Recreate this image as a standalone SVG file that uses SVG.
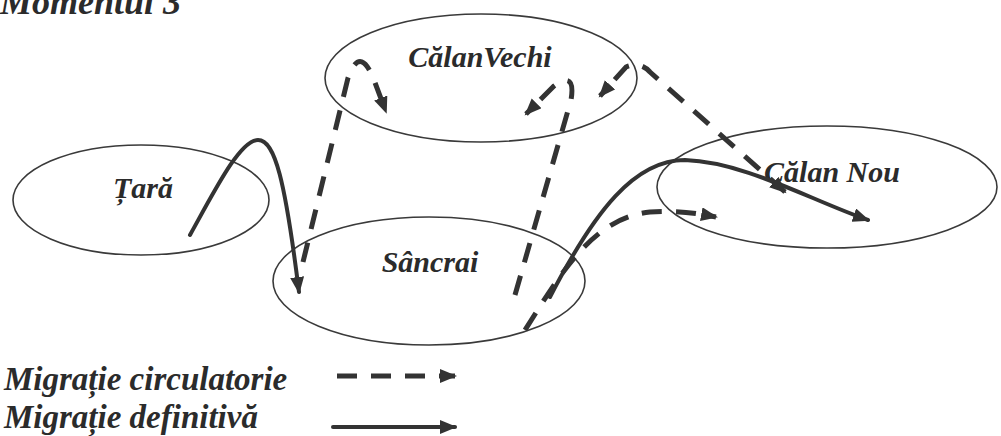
<svg xmlns="http://www.w3.org/2000/svg" width="1001" height="436" viewBox="0 0 1001 436">
<style>
.t{font-family:"Liberation Serif","Times New Roman",serif;font-weight:bold;font-style:italic;fill:#2b2b2b}
.n{font-size:30px;text-anchor:middle}
.lg{font-size:33px}
.e{fill:none;stroke:#3a3a3a;stroke-width:1.6}
.s{fill:none;stroke:#333;stroke-width:4;stroke-linecap:round}
.d{fill:none;stroke:#333;stroke-width:5;stroke-dasharray:20 14}
</style>
<defs>
<marker id="ah" markerUnits="userSpaceOnUse" markerWidth="18" markerHeight="16" refX="15" refY="7" orient="auto-start-reverse">
<path d="M0,0 L17,7 L0,14 z" fill="#333"/>
</marker>
</defs>
<rect width="1001" height="436" fill="#fff"/>
<text class="t" x="0" y="14" font-size="36">Momentul 3</text>

<g id="tara"><ellipse class="e" cx="141" cy="200" rx="128" ry="55"/><text class="t n" x="143" y="198">Țară</text></g>
<g id="calanvechi"><ellipse class="e" cx="481" cy="78" rx="156" ry="64"/><text class="t n" x="480" y="67">CălanVechi</text></g>
<g id="sancrai"><ellipse class="e" cx="429" cy="281" rx="156" ry="64"/><text class="t n" x="430" y="272">Sâncrai</text></g>
<g id="calannou"><ellipse class="e" cx="827" cy="187" rx="170" ry="61"/><text class="t n" x="832" y="182">Călan Nou</text></g>

<g id="connectors">
<path class="s" d="M190,235 C215,190 240,140 258,140 C275,140 285,180 299,292" marker-end="url(#ah)"/>
<path class="s" d="M550,297 C595,210 635,160 685,160 C745,162 810,200 868,220" marker-end="url(#ah)"/>
<path class="d" d="M303,262 L348,78 Q360,44 374,80 L386,112" marker-end="url(#ah)"/>
<path class="d" d="M515,295 L571,100 Q576,70 554,86 L526,114" marker-end="url(#ah)"/>
<path class="d" d="M785,192 L650,72 Q640,61 626,67 L600,96" marker-start="url(#ah)" marker-end="url(#ah)"/>
<path class="d" d="M525,330 C560,275 592,218 650,212 C680,210 700,214 716,217" marker-end="url(#ah)"/>
</g>

<g id="legend">
<text class="t lg" x="4" y="390">Migrație circulatorie</text>
<text class="t lg" x="4" y="428">Migrație definitivă</text>
<path class="d" d="M337,376 L455,376" stroke-dasharray="24 15" marker-end="url(#ah)"/>
<path class="s" d="M333,427 L455,427" stroke-linecap="butt" marker-end="url(#ah)"/>
</g>
</svg>
